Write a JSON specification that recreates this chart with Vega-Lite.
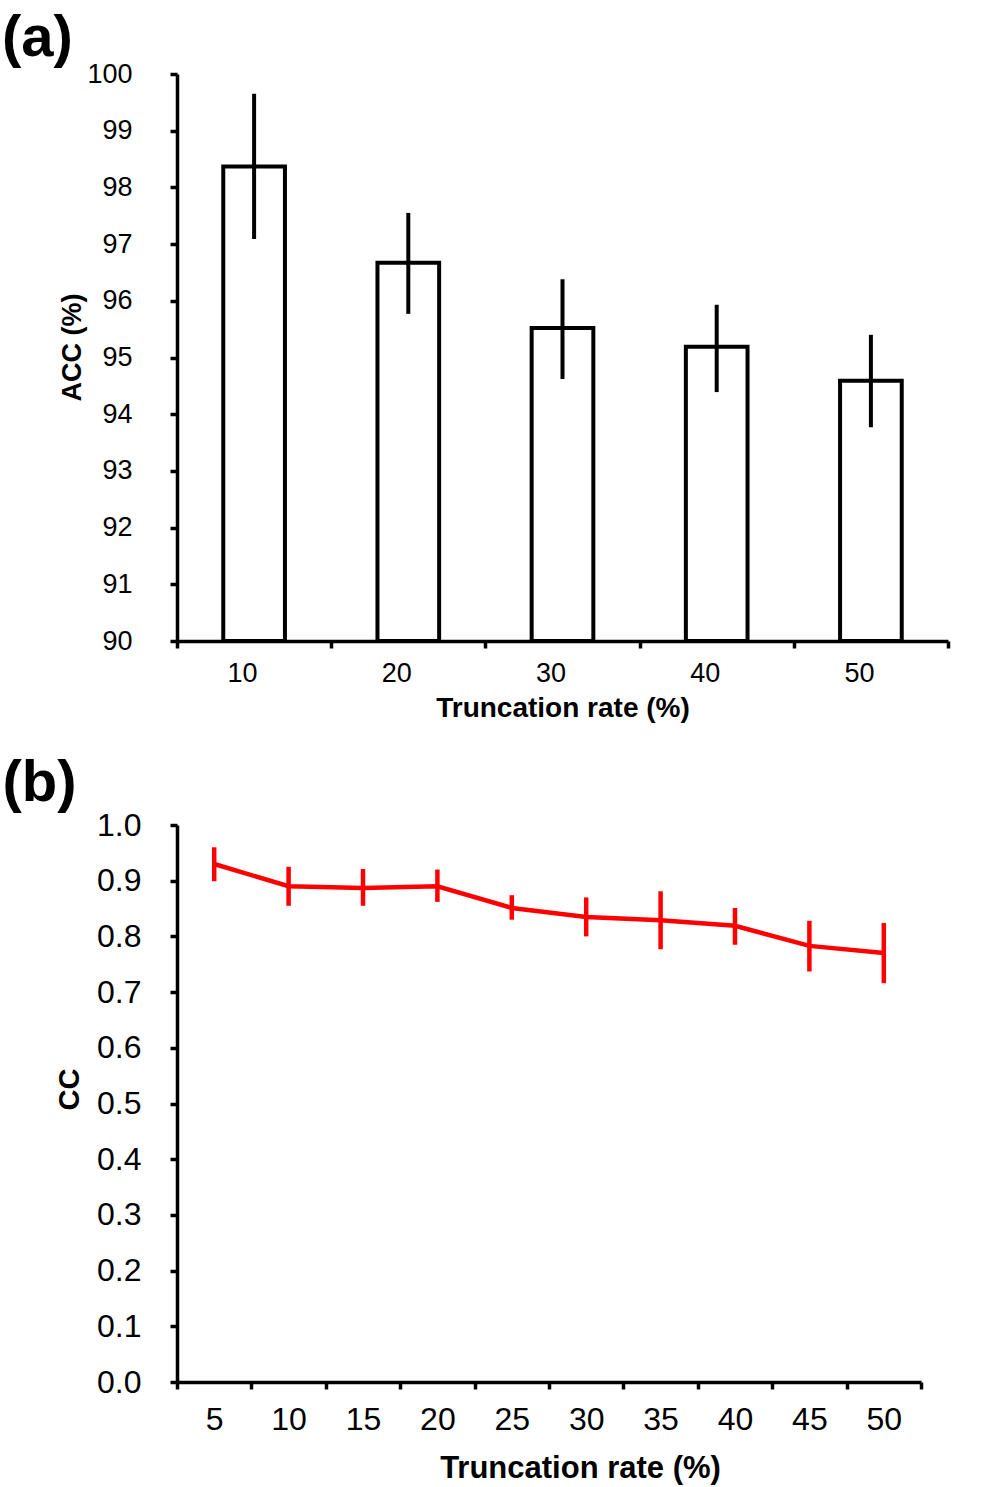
{
  "$schema": "https://vega.github.io/schema/vega-lite/v6.json",
  "background": "white",
  "padding": {"left": 1, "top": 10, "right": 20, "bottom": 5},
  "spacing": 33,
  "config": {
    "font": "Liberation Sans",
    "view": {"stroke": null},
    "axis": {
      "domainColor": "black",
      "domainWidth": 3.5,
      "tickColor": "black",
      "tickWidth": 3.5,
      "tickSize": 7,
      "grid": false,
      "labelColor": "black",
      "titleColor": "black",
      "titleFontWeight": "bold",
      "labelFont": "Liberation Sans",
      "titleFont": "Liberation Sans"
    },
    "title": {"font": "Liberation Sans", "fontWeight": "bold", "color": "black"}
  },
  "vconcat": [
    {
      "title": {"text": "(a)", "fontSize": 58, "anchor": "start", "frame": "bounds", "dx": -57, "offset": -8},
      "width": 771,
      "height": 567,
      "data": {
        "values": [
          {"rate": 10, "acc": 98.37, "lo": 97.09, "hi": 99.65},
          {"rate": 20, "acc": 96.67, "lo": 95.77, "hi": 97.55},
          {"rate": 30, "acc": 95.52, "lo": 94.62, "hi": 96.38},
          {"rate": 40, "acc": 95.19, "lo": 94.39, "hi": 95.93},
          {"rate": 50, "acc": 94.59, "lo": 93.77, "hi": 95.4}
        ]
      },
      "encoding": {
        "x": {
          "field": "rate",
          "type": "ordinal",
          "scale": {"type": "band", "paddingInner": 0, "paddingOuter": 0},
          "axis": {
            "title": "Truncation rate (%)",
            "labelAngle": 0,
            "labelFontSize": 27,
            "titleFontSize": 28,
            "tickBand": "extent",
            "labelOffset": -12,
            "labelPadding": 12,
            "titlePadding": 8
          }
        }
      },
      "layer": [
        {
          "mark": {"type": "bar", "fill": "white", "stroke": "black", "strokeWidth": 4, "width": {"band": 0.4}},
          "encoding": {
            "y": {
              "field": "acc",
              "type": "quantitative",
              "scale": {"domain": [90, 100], "zero": false, "nice": false},
              "axis": {
                "title": "ACC (%)",
                "tickCount": 10,
                "labelFontSize": 27,
                "titleFontSize": 27,
                "labelPadding": 38,
                "titlePadding": 0,
                "titleY": 273
              }
            },
            "y2": {"datum": 90}
          }
        },
        {
          "mark": {"type": "rule", "color": "black", "strokeWidth": 4},
          "encoding": {
            "y": {"field": "lo", "type": "quantitative"},
            "y2": {"field": "hi"}
          }
        }
      ]
    },
    {
      "title": {"text": "(b)", "fontSize": 58, "anchor": "start", "frame": "bounds", "dx": -53, "offset": -4},
      "width": 744,
      "height": 557,
      "data": {
        "values": [
          {"rate": 5, "cc": 0.93, "lo": 0.899, "hi": 0.96},
          {"rate": 10, "cc": 0.89, "lo": 0.855, "hi": 0.925},
          {"rate": 15, "cc": 0.887, "lo": 0.855, "hi": 0.921},
          {"rate": 20, "cc": 0.89, "lo": 0.862, "hi": 0.92},
          {"rate": 25, "cc": 0.851, "lo": 0.83, "hi": 0.874},
          {"rate": 30, "cc": 0.835, "lo": 0.8, "hi": 0.87},
          {"rate": 35, "cc": 0.829, "lo": 0.777, "hi": 0.881},
          {"rate": 40, "cc": 0.819, "lo": 0.785, "hi": 0.851},
          {"rate": 45, "cc": 0.783, "lo": 0.737, "hi": 0.828},
          {"rate": 50, "cc": 0.77, "lo": 0.716, "hi": 0.824}
        ]
      },
      "encoding": {
        "x": {
          "field": "rate",
          "type": "ordinal",
          "scale": {"type": "band", "paddingInner": 0, "paddingOuter": 0},
          "axis": {
            "title": "Truncation rate (%)",
            "labelAngle": 0,
            "labelFontSize": 32,
            "titleFontSize": 31,
            "tickBand": "extent",
            "labelPadding": 15,
            "titlePadding": 18,
            "titleX": 403
          }
        }
      },
      "layer": [
        {
          "mark": {"type": "line", "color": "#FF0000", "strokeWidth": 4.5},
          "encoding": {
            "y": {
              "field": "cc",
              "type": "quantitative",
              "scale": {"domain": [0, 1], "nice": false},
              "axis": {
                "title": "CC",
                "tickCount": 10,
                "format": ".1f",
                "labelFontSize": 32,
                "titleFontSize": 29,
                "labelPadding": 29,
                "titlePadding": 12,
                "titleY": 264
              }
            }
          }
        },
        {
          "mark": {"type": "rule", "color": "#FF0000", "strokeWidth": 4.5},
          "encoding": {
            "y": {"field": "lo", "type": "quantitative"},
            "y2": {"field": "hi"}
          }
        }
      ]
    }
  ]
}
